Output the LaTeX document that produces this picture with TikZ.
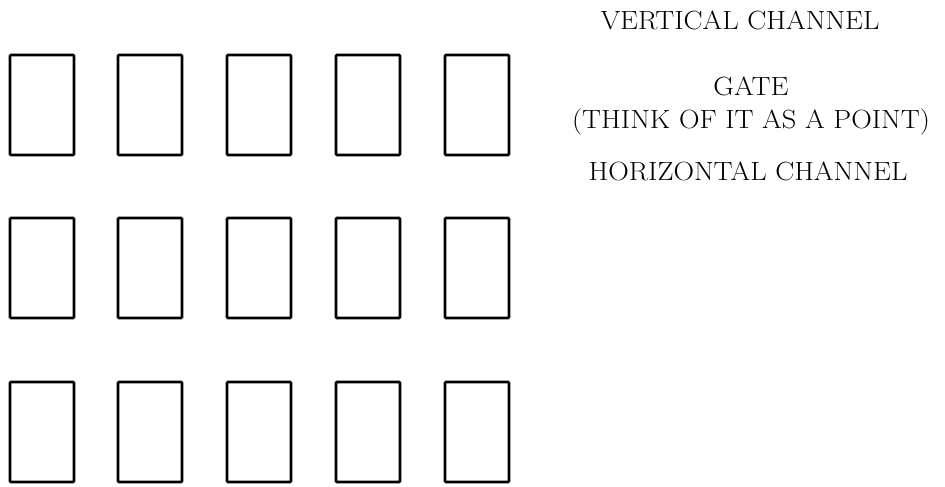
\documentclass[tikz,border=0pt]{standalone}
\usepackage{tikz}
\usetikzlibrary{positioning}
\tikzset{
  cellbox/.style={draw, line width=1.5pt, rounded corners=0.6pt,
                  minimum width=1.28cm, minimum height=2cm, inner sep=0pt},
  legend/.style={font=\fontsize{15}{18.5}\selectfont, align=center, inner sep=0pt,
                 xscale=1.08, transform shape},
}

\begin{document}
\begin{tikzpicture}[x=0.02cm, y=-0.02cm]
    \useasboundingbox (0,0) rectangle (945,486);
    % grid of cells, 3 rows by 5 columns
    \foreach \r/\ry in {1/105, 2/268, 3/432}{
      \foreach \c/\cx in {1/42, 2/150, 3/259, 4/368, 5/477}{
        \node[cellbox] (cell-\r-\c) at (\cx,\ry) {};
      }
    }
    % legend on the right
    \node[legend] (vchan) at (740,20) {VERTICAL CHANNEL};
    \node[legend] (gate) at (751,106) {GATE\\(THINK OF IT AS A POINT)};
    \node[legend] (hchan) at (748,171) {HORIZONTAL CHANNEL};
\end{tikzpicture}
\end{document}
